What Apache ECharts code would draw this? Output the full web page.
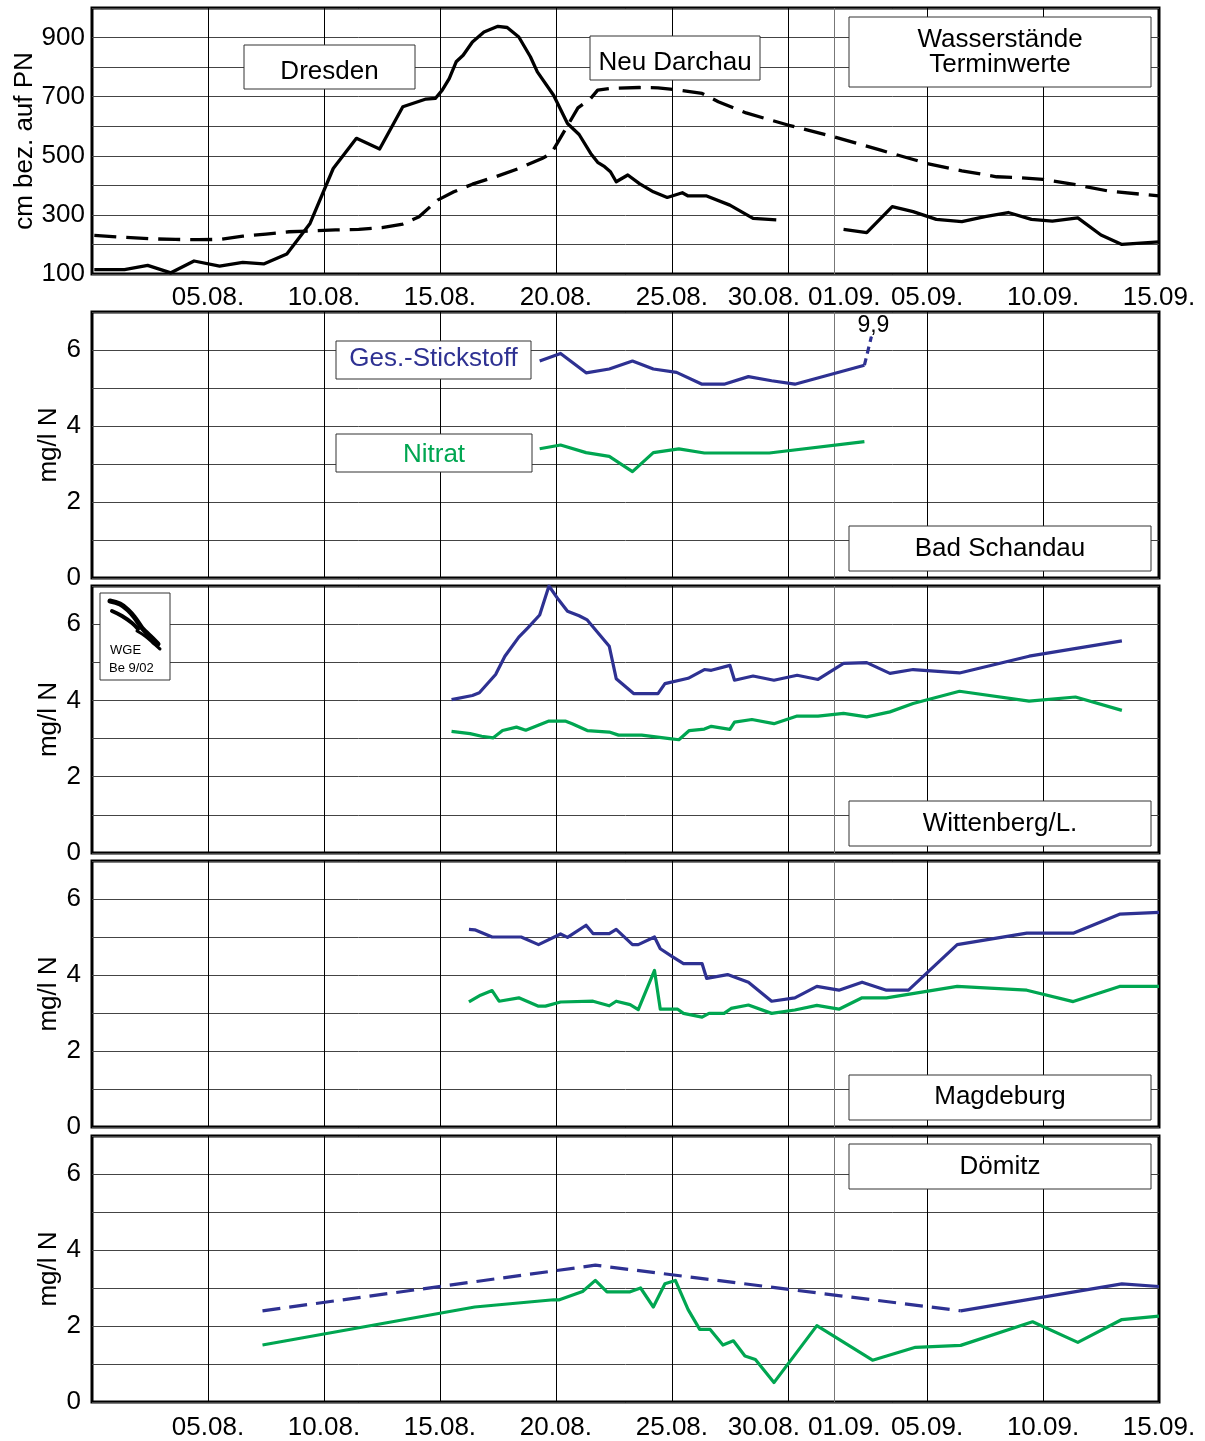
<!DOCTYPE html>
<html><head><meta charset="utf-8">
<script src="https://cdn.jsdelivr.net/npm/echarts@6/dist/echarts.min.js"></script>
<style>html,body{margin:0;padding:0;background:#fff}#c{width:1205px;height:1441px}</style>
</head><body><div id="c"></div><script>
// x values are days after 31.07. (05.08. = 5, 01.09. = 32, 15.09. = 46)
const tickDays   = [5, 10, 15, 20, 25, 30, 32, 36, 41, 46];
const tickLabels = ['05.08.','10.08.','15.08.','20.08.','25.08.','30.08.','01.09.','05.09.','10.09.','15.09.'];
const levelTicks = [100, 300, 500, 700, 900];
const concTicks  = [0, 2, 4, 6];

// Wasserstände (cm bez. auf PN)
const dresden = [[0.1,115],[1.4,115],[2.4,129],[3.4,104],[4.4,144],[5.5,127],[6.5,139],[7.4,134],[8.4,168],[9.4,271],[10.4,457],[11.4,559],[12.4,523],[13.4,666],[14.4,692],[14.8,694],[15.1,722],[15.4,761],[15.7,818],[16.0,840],[16.4,885],[16.9,919],[17.5,938],[17.9,934],[18.4,902],[18.9,835],[19.2,784],[19.9,705],[20.5,609],[21.0,572],[21.5,508],[21.8,478],[22.1,463],[22.35,446],[22.6,412],[23.1,435],[23.6,406],[24.2,378],[24.8,359],[25.45,375],[25.7,364],[26.5,364],[27.5,333],[28.5,288],[29.5,283],[31,'-'],[32.4,251],[33.4,240],[34.5,328],[35.4,311],[36.4,285],[37.5,277],[38.5,294],[39.5,308],[40.5,285],[41.4,279],[42.5,290],[43.5,232],[44.4,200],[46,209]];
const neuDarchau = [[0.1,231],[1.4,224],[2.6,219],[3.6,217],[4.6,216],[5.5,217],[6.5,228],[7.5,235],[8.5,243],[9.5,246],[10.5,249],[11.5,251],[12.5,257],[13.4,269],[14.1,294],[14.9,350],[15.6,378],[16.4,404],[17.4,429],[18.4,457],[19.4,491],[19.8,508],[20.3,575],[20.95,662],[21.5,694],[21.8,722],[22.35,728],[23.6,731],[24.4,730],[25.1,724],[26.3,711],[27.0,683],[28.2,645],[30.0,604],[32.0,564],[34.0,519],[36.0,474],[37.5,449],[39.0,429],[40.0,426],[41.0,420],[42.5,401],[43.8,381],[46,364]];

// Bad Schandau (mg/l N)
const bsGesN = [[19.3,5.71],[20.2,5.91],[21.3,5.40],[22.3,5.50],[23.3,5.71],[24.2,5.50],[25.2,5.41],[26.3,5.10],[27.25,5.10],[28.3,5.30],[29.3,5.19],[30.3,5.10],[33.3,5.60]];
const bsGesNPeak = [[33.3,5.60],[33.6,6.35]];
const bsPeakText = '9,9';
const bsNitrat = [[19.3,3.40],[20.2,3.50],[21.3,3.30],[22.3,3.20],[23.3,2.80],[24.2,3.30],[25.3,3.40],[26.4,3.29],[29.2,3.29],[33.3,3.59]];

// Wittenberg/L.
const wbGesN = [[15.5,4.02],[16.4,4.13],[16.7,4.20],[17.4,4.68],[17.8,5.16],[18.4,5.66],[18.8,5.91],[19.3,6.24],[19.7,7.0],[20.1,6.65],[20.5,6.34],[21.0,6.22],[21.35,6.11],[22.3,5.42],[22.6,4.57],[23.35,4.18],[24.4,4.18],[24.7,4.44],[25.7,4.58],[26.4,4.81],[26.7,4.79],[27.5,4.92],[27.7,4.53],[28.5,4.64],[29.4,4.53],[30.4,4.66],[31.3,4.55],[32.4,4.97],[33.4,4.99],[34.4,4.71],[35.4,4.81],[37.4,4.72],[40.4,5.16],[44.4,5.56]];
const wbNitrat = [[15.5,3.19],[16.3,3.13],[16.8,3.06],[17.3,3.02],[17.7,3.21],[18.3,3.30],[18.7,3.22],[19.7,3.46],[20.4,3.46],[20.7,3.39],[21.35,3.21],[22.3,3.17],[22.7,3.09],[23.7,3.09],[24.9,3.00],[25.3,2.97],[25.75,3.21],[26.4,3.25],[26.7,3.32],[27.5,3.24],[27.7,3.43],[28.45,3.50],[29.4,3.39],[30.4,3.59],[31.3,3.59],[32.4,3.66],[33.4,3.57],[34.4,3.70],[35.4,3.92],[37.4,4.24],[40.4,3.98],[42.4,4.09],[44.4,3.74]];

// Magdeburg
const mdGesN = [[16.25,5.20],[16.5,5.19],[17.25,5.00],[18.5,5.00],[19.25,4.80],[20.2,5.08],[20.5,4.99],[21.3,5.31],[21.6,5.09],[22.3,5.09],[22.6,5.20],[23.3,4.80],[23.55,4.80],[24.25,5.00],[24.5,4.69],[25.0,4.49],[25.5,4.30],[26.3,4.30],[26.5,3.91],[27.4,4.01],[28.3,3.81],[29.3,3.31],[30.3,3.40],[31.25,3.70],[32.2,3.60],[33.2,3.81],[34.25,3.60],[35.2,3.60],[37.3,4.80],[40.3,5.10],[42.3,5.10],[44.3,5.60],[46,5.65]];
const mdNitrat = [[16.25,3.29],[16.75,3.47],[17.25,3.59],[17.55,3.31],[18.4,3.40],[19.25,3.18],[19.55,3.18],[20.2,3.29],[21.6,3.31],[22.3,3.19],[22.6,3.31],[23.2,3.22],[23.55,3.09],[24.25,4.12],[24.5,3.10],[25.25,3.10],[25.5,2.99],[26.3,2.89],[26.6,2.99],[27.25,2.99],[27.55,3.12],[28.3,3.21],[29.3,2.99],[30.3,3.08],[31.25,3.20],[32.2,3.10],[33.2,3.40],[34.25,3.40],[37.3,3.70],[40.3,3.60],[42.3,3.30],[44.3,3.70],[46,3.70]];

// Dömitz
const dmGesNDashed = [[7.35,2.40],[21.7,3.60],[37.45,2.40]];
const dmGesN = [[37.45,2.40],[44.4,3.11],[46,3.04]];
const dmNitrat = [[7.35,1.50],[16.5,2.50],[19.9,2.69],[20.15,2.69],[21.15,2.91],[21.7,3.20],[22.2,2.90],[23.2,2.90],[23.65,3.00],[24.2,2.50],[24.7,3.11],[25.15,3.20],[25.7,2.43],[26.2,1.91],[26.65,1.91],[27.2,1.50],[27.65,1.61],[28.15,1.21],[28.6,1.12],[29.4,0.51],[31.25,2.01],[33.65,1.10],[35.5,1.44],[37.45,1.49],[40.55,2.11],[42.5,1.57],[44.4,2.17],[46,2.26]];

const FONT = '"Liberation Sans", Arial, Helvetica, sans-serif';
const FS = 26;
const BLUE = '#2e3192', GREEN = '#00a651';

const grids = [
  {left:92, top:8,    width:1067, height:266},
  {left:92, top:312,  width:1067, height:266},
  {left:92, top:586,  width:1067, height:267},
  {left:92, top:861,  width:1067, height:266},
  {left:92, top:1136, width:1067, height:266}
].map(g => Object.assign(g, {show:true, borderColor:'#000', borderWidth:3, backgroundColor:'transparent',
  containLabel:false, outerBoundsMode:'none'}));

const rich = {
  n:{fontSize:FS, fontFamily:FONT, color:'#000'},
  l:{fontSize:FS, fontFamily:FONT, color:'#000', padding:[0,48,0,0]},
  r:{fontSize:FS, fontFamily:FONT, color:'#000', padding:[0,0,0,20]}
};
function xLabel(v){
  const i = tickDays.indexOf(Math.round(v*1000)/1000);
  if(i < 0) return '';
  const t = tickLabels[i];
  if(tickDays[i] === 30) return '{l|' + t + '}';
  if(tickDays[i] === 32) return '{r|' + t + '}';
  return '{n|' + t + '}';
}

const xAxes = grids.map((g, i) => ({
  type:'value', gridIndex:i, min:0, max:46, interval:1,
  axisLine:{show:false}, axisTick:{show:false}, splitLine:{show:false},
  axisLabel:{show: i===0 || i===4, formatter:xLabel, rich:rich, margin: i===0 ? 11 : 13, fontSize:FS, fontFamily:FONT, color:'#000'}
}));

const yAxes = grids.map((g, i) => i === 0 ? ({
  type:'value', gridIndex:0, min:100, max:1000, interval:100,
  axisLine:{show:false}, axisTick:{show:false},
  splitLine:{show:true, lineStyle:{color:'#444', width:1}},
  axisLabel:{margin:7, fontSize:FS, fontFamily:FONT, color:'#000',
    formatter: v => levelTicks.indexOf(v) >= 0 ? String(v) : ''},
  name:'cm bez. auf PN', nameLocation:'middle', nameGap:54, nameMoveOverlap:false,
  nameTextStyle:{fontSize:FS, fontFamily:FONT, color:'#000'}
}) : ({
  type:'value', gridIndex:i, min:0, max:7, interval:1,
  axisLine:{show:false}, axisTick:{show:false},
  splitLine:{show:true, lineStyle:{color:'#444', width:1}},
  axisLabel:{margin:11, fontSize:FS, fontFamily:FONT, color:'#000', showMaxLabel:false,
    formatter: v => concTicks.indexOf(v) >= 0 ? String(v) : ''},
  name:'mg/l N', nameLocation:'middle', nameGap:30, nameMoveOverlap:false,
  nameTextStyle:{fontSize:FS, fontFamily:FONT, color:'#000'}
}));

function vgrid(i){
  return {type:'line', xAxisIndex:i, yAxisIndex:i, data:[], z:1, silent:true,
    markLine:{silent:true, z:1, symbol:['none','none'], label:{show:false},
      emphasis:{disabled:true},
      lineStyle:{color:'#000', width:1, type:'solid'},
      data: tickDays.map(d => ({xAxis:d, lineStyle:{color: d===32 ? '#777' : '#000', width:1, type:'solid'}}))}};
}
function line(i, data, color, width, type, extra){
  return Object.assign({type:'line', xAxisIndex:i, yAxisIndex:i, data:data, showSymbol:false, symbol:'none',
    z:3, silent:true, connectNulls:false,
    lineStyle:{color:color, width:width, type:type || 'solid', cap:'butt', join:'round'}}, extra || {});
}

const series = [
  vgrid(0), vgrid(1), vgrid(2), vgrid(3), vgrid(4),
  line(0, dresden, '#000', 3.3),
  line(0, neuDarchau, '#000', 3.3, [22,10]),
  line(1, bsGesN, BLUE, 3.2),
  line(1, bsGesNPeak.map((p, k) => k === 1 ? {value:p, symbolSize:1,
        label:{show:true, position:'top', distance:0, offset:[2,1], formatter:bsPeakText, fontSize:23, fontFamily:FONT, color:'#000'}} : {value:p, symbolSize:0}),
       BLUE, 3.2, [7,5], {showSymbol:true, symbol:'circle', itemStyle:{color:BLUE}}),
  line(1, bsNitrat, GREEN, 3.2),
  line(2, wbGesN, BLUE, 3.2),
  line(2, wbNitrat, GREEN, 3.2),
  line(3, mdGesN, BLUE, 3.2),
  line(3, mdNitrat, GREEN, 3.2),
  line(4, dmGesNDashed, BLUE, 3.2, [18,9]),
  line(4, dmGesN, BLUE, 3.2),
  line(4, dmNitrat, GREEN, 3.2)
];

// box: rect + centred text lines; ty = vertical centre of the glyphs
function box(x, y, w, h, lines, ty, color){
  const els = [{type:'rect', shape:{x:x, y:y, width:w, height:h}, style:{fill:'#fff', stroke:'#333', lineWidth:1}, z:10}];
  lines.forEach((t, k) => els.push({type:'text', x:x + w/2, y:ty[k] + 1.5, z:11,
    style:{text:t, fill:color || '#000', font: FS + 'px ' + FONT, textAlign:'center', textVerticalAlign:'middle'}}));
  return els;
}
function stroke(points, w){
  return {type:'polyline', z:11, shape:{points:points, smooth:0.4}, style:{fill:null, stroke:'#000', lineWidth:w, lineCap:'round', lineJoin:'round'}};
}

const graphic = [].concat(
  box(244, 45, 171, 44, ['Dresden'], [70.5]),
  box(590, 36, 170, 44, ['Neu Darchau'], [61]),
  box(849, 17, 302, 70, ['Wasserstände', 'Terminwerte'], [38.5, 63.5]),
  box(336, 341, 195, 38, ['Ges.-Stickstoff'], [357], BLUE),
  box(336, 434, 196, 38, ['Nitrat'], [453], GREEN),
  box(849, 526, 302, 45, ['Bad Schandau'], [547]),
  box(849, 801, 302, 45, ['Wittenberg/L.'], [822]),
  box(849, 1075, 302, 45, ['Magdeburg'], [1095]),
  box(849, 1144, 302, 45, ['Dömitz'], [1165]),
  [
    {type:'rect', shape:{x:100, y:593, width:70, height:87}, style:{fill:'#fff', stroke:'#333', lineWidth:1}, z:10},
    stroke([[110,601],[120,604],[128,610],[135,618],[142,628],[150,636],[158,644]], 5),
    stroke([[112,611],[122,616],[132,623],[138,629]], 4),
    stroke([[137,631],[145,636],[153,643],[160,649]], 3),
    {type:'text', z:11, x:110, y:650, style:{text:'WGE', fill:'#000', font:'13px ' + FONT, textAlign:'left', textVerticalAlign:'middle'}},
    {type:'text', z:11, x:109, y:668, style:{text:'Be 9/02', fill:'#000', font:'13px ' + FONT, textAlign:'left', textVerticalAlign:'middle'}}
  ]
);

const chart = echarts.init(document.getElementById('c'), null, {renderer:'canvas'});
chart.setOption({
  animation:false,
  backgroundColor:'#fff',
  textStyle:{fontFamily:FONT},
  grid:grids, xAxis:xAxes, yAxis:yAxes, series:series, graphic:graphic
});
</script></body></html>
